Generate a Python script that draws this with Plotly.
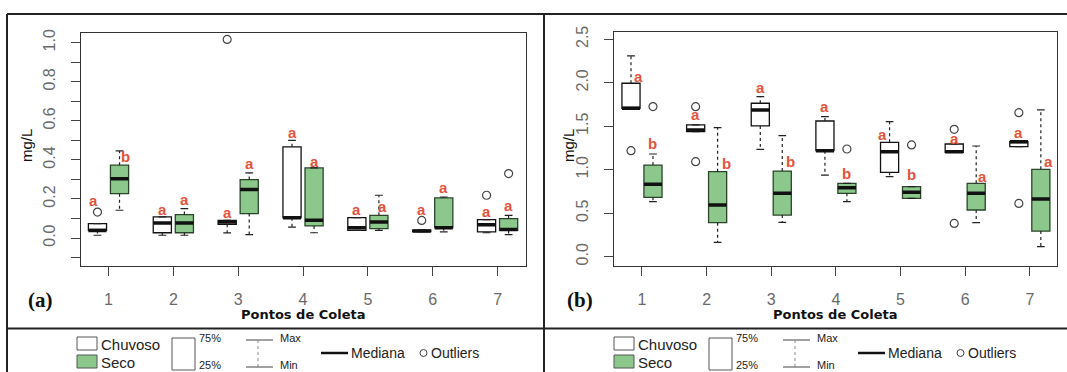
import plotly.graph_objects as go

W, H = 1067, 372

points = [1, 2, 3, 4, 5, 6, 7]
tick_labels = ["1", "2", "3", "4", "5", "6", "7"]

# ---------------- Panel (a) ----------------
a_chu_min = [0.014, 0.014, 0.026, 0.056, 0.039, 0.033, 0.027]
a_chu_q1 = [0.039, 0.027, 0.070, 0.104, 0.039, 0.033, 0.031]
a_chu_med = [0.039, 0.077, 0.082, 0.104, 0.053, 0.036, 0.068]
a_chu_q3 = [0.074, 0.108, 0.090, 0.467, 0.104, 0.040, 0.094]
a_chu_max = [0.074, 0.108, 0.090, 0.500, 0.104, 0.040, 0.094]
a_chu_out = [[0.133], [], [1.017], [], [], [0.090], [0.219]]
a_seco_min = [0.142, 0.014, 0.017, 0.027, 0.039, 0.031, 0.017]
a_seco_q1 = [0.227, 0.027, 0.125, 0.062, 0.048, 0.053, 0.039]
a_seco_med = [0.304, 0.077, 0.248, 0.091, 0.082, 0.053, 0.043]
a_seco_q3 = [0.373, 0.120, 0.299, 0.359, 0.116, 0.205, 0.099]
a_seco_max = [0.446, 0.150, 0.333, 0.359, 0.219, 0.210, 0.116]
a_seco_out = [[], [], [], [], [], [], [0.330]]
a_chu_letters = ["a", "a", "a", "a", "a", "a", "a"]
a_chu_letter_y = [0.193, 0.145, 0.133, 0.540, 0.145, 0.145, 0.138]
a_seco_letters = ["b", "a", "a", "a", "a", "a", "a"]
a_seco_letter_y = [0.419, 0.198, 0.381, 0.390, 0.159, 0.258, 0.164]
a_chu_letter_dx = [-4, 0, 0, 0, 0, 0, 0]
a_seco_letter_dx = [6, 0, 0, 0, 4, 0, 0]
a_yticks = [0.0, 0.2, 0.4, 0.6, 0.8, 1.0]

# ---------------- Panel (b) ----------------
b_chu_min = [1.706, 1.438, 1.235, 0.939, 0.920, 1.200, 1.265]
b_chu_q1 = [1.706, 1.438, 1.503, 1.219, 0.970, 1.200, 1.265]
b_chu_med = [1.706, 1.457, 1.687, 1.219, 1.208, 1.208, 1.323]
b_chu_q3 = [1.994, 1.515, 1.764, 1.560, 1.315, 1.296, 1.323]
b_chu_max = [2.308, 1.515, 1.840, 1.610, 1.553, 1.296, 1.323]
b_chu_out = [[1.219], [1.725, 1.093], [], [], [], [1.465, 0.383], [1.656, 0.613]]
b_seco_min = [0.633, 0.165, 0.395, 0.633, 0.671, 0.391, 0.115]
b_seco_q1 = [0.683, 0.391, 0.479, 0.729, 0.671, 0.537, 0.295]
b_seco_med = [0.832, 0.594, 0.729, 0.794, 0.740, 0.729, 0.663]
b_seco_q3 = [1.054, 0.978, 0.985, 0.844, 0.805, 0.844, 1.005]
b_seco_max = [1.181, 1.484, 1.392, 0.844, 0.805, 1.273, 1.687]
b_seco_out = [[1.726], [], [], [1.238], [1.285], [], []]
b_chu_letters = ["a", "a", "a", "a", "a", "a", "a"]
b_chu_letter_y = [2.070, 1.630, 1.944, 1.725, 1.407, 1.361, 1.426]
b_seco_letters = ["b", "b", "b", "b", "b", "a", "a"]
b_seco_letter_y = [1.304, 1.074, 1.093, 0.951, 0.947, 0.920, 1.093]
b_chu_letter_dx = [7, 0, 0, 0, -7, 0, 0]
b_seco_letter_dx = [0, 9, 8, 0, 0, 6, 8]
b_yticks = [0.0, 0.5, 1.0, 1.5, 2.0, 2.5]

OFF = 0.17
BW = 0.28
CAP = 0.06
GREEN = "#8cc88c"
GREEN_LINE = "#2a452a"
RED = "#e4533c"
TICKC = "#6a6a6a"


def X(px):
    return px / W


def Y(py):
    return 1 - py / H


fig = go.Figure()
annotations = []


def add_panel(xa, ya, chu, seco, chu_out, seco_out, letters):
    xref = "x" if xa == "xaxis" else "x2"
    yref = "y" if ya == "yaxis" else "y2"
    for (mn, q1, md, q3, mx), outs, sign, fill, lc in [
        (chu, chu_out, -1, "white", "#111111"),
        (seco, seco_out, 1, GREEN, GREEN_LINE),
    ]:
        xs = [p + sign * OFF for p in points]
        fig.add_trace(go.Box(
            x=xs, q1=q1, median=md, q3=q3, lowerfence=q1, upperfence=q3,
            width=BW, fillcolor=fill, line=dict(color=lc, width=1.3),
            xaxis=xref, yaxis=yref, showlegend=False, hoverinfo="skip",
        ))
        # whiskers (dashed)
        wx, wy = [], []
        for x0, a, b, c, d in zip(xs, mn, q1, q3, mx):
            wx += [x0, x0, None, x0, x0, None]
            wy += [c, d, None, b, a, None]
        fig.add_trace(go.Scatter(x=wx, y=wy, mode="lines",
                                 line=dict(color="#222222", width=1.2, dash="dot"),
                                 xaxis=xref, yaxis=yref, showlegend=False, hoverinfo="skip"))
        # caps
        cx, cy = [], []
        for x0, a, d in zip(xs, mn, mx):
            cx += [x0 - CAP, x0 + CAP, None, x0 - CAP, x0 + CAP, None]
            cy += [d, d, None, a, a, None]
        fig.add_trace(go.Scatter(x=cx, y=cy, mode="lines",
                                 line=dict(color="#222222", width=1.2),
                                 xaxis=xref, yaxis=yref, showlegend=False, hoverinfo="skip"))
        # medians
        mx_, my_ = [], []
        for x0, m in zip(xs, md):
            mx_ += [x0 - BW / 2, x0 + BW / 2, None]
            my_ += [m, m, None]
        fig.add_trace(go.Scatter(x=mx_, y=my_, mode="lines",
                                 line=dict(color="#111111", width=3.5),
                                 xaxis=xref, yaxis=yref, showlegend=False, hoverinfo="skip"))
        # outliers
        ox, oy = [], []
        for x0, o in zip(xs, outs):
            for v in o:
                ox.append(x0)
                oy.append(v)
        fig.add_trace(go.Scatter(x=ox, y=oy, mode="markers",
                                 marker=dict(symbol="circle-open", size=8,
                                             line=dict(color="#444444", width=1.2),
                                             color="#444444"),
                                 xaxis=xref, yaxis=yref, showlegend=False, hoverinfo="skip"))
    # letters
    (cl, cy_, cdx), (sl, sy_, sdx) = letters
    for sign, labs, ys, dxs in [(-1, cl, cy_, cdx), (1, sl, sy_, sdx)]:
        for p, t, yv, dx in zip(points, labs, ys, dxs):
            annotations.append(dict(
                x=p + sign * OFF, y=yv, xref=xref, yref=yref, text=f"<b>{t}</b>",
                showarrow=False, xshift=dx, xanchor="center", yanchor="middle",
                font=dict(family="Liberation Sans, Arial", size=15, color=RED),
            ))


add_panel("xaxis", "yaxis",
          (a_chu_min, a_chu_q1, a_chu_med, a_chu_q3, a_chu_max),
          (a_seco_min, a_seco_q1, a_seco_med, a_seco_q3, a_seco_max),
          a_chu_out, a_seco_out,
          ((a_chu_letters, a_chu_letter_y, a_chu_letter_dx),
           (a_seco_letters, a_seco_letter_y, a_seco_letter_dx)))
add_panel("xaxis2", "yaxis2",
          (b_chu_min, b_chu_q1, b_chu_med, b_chu_q3, b_chu_max),
          (b_seco_min, b_seco_q1, b_seco_med, b_seco_q3, b_seco_max),
          b_chu_out, b_seco_out,
          ((b_chu_letters, b_chu_letter_y, b_chu_letter_dx),
           (b_seco_letters, b_seco_letter_y, b_seco_letter_dx)))

axis_common = dict(showline=True, mirror=True, linecolor="#333333", linewidth=1.3,
                   ticks="outside", ticklen=9, tickcolor="#444444", tickwidth=1.2,
                   showgrid=False, zeroline=False,
                   tickfont=dict(family="Liberation Sans, Arial", size=16, color=TICKC))

xa = dict(axis_common, tickmode="array", tickvals=points, ticktext=tick_labels,
          ticklabelstandoff=10)

fig.update_layout(
    width=W, height=H, margin=dict(l=0, r=0, t=0, b=0, autoexpand=False),
    paper_bgcolor="white", plot_bgcolor="white",
    xaxis=dict(xa, domain=[X(81), X(526)], range=[0.576, 7.438], anchor="y"),
    yaxis=dict(axis_common, domain=[Y(265.7), Y(33)], range=[-0.1418, 1.0497], anchor="x",
               tickmode="array", tickvals=a_yticks,
               ticktext=[f"{v:.1f}" for v in a_yticks], tickangle=-90,
               ticklabelstandoff=9,
               minor=dict(dtick=0.1, tick0=0, ticks="outside", ticklen=9,
                          tickcolor="#444444", tickwidth=1.2, showgrid=False)),
    xaxis2=dict(xa, domain=[X(614), X(1057)], range=[0.567, 7.42], anchor="y2"),
    yaxis2=dict(axis_common, domain=[Y(265.7), Y(32.3)], range=[-0.1035, 2.580], anchor="x2",
                tickmode="array", tickvals=b_yticks,
                ticktext=[f"{v:.1f}" for v in b_yticks], tickangle=-90,
                ticklabelstandoff=9),
)


def ptext(px, py, text, size, family="Liberation Sans, Arial", xanchor="center",
          color="#222222", angle=0):
    annotations.append(dict(x=X(px), y=Y(py), xref="paper", yref="paper", text=text,
                            showarrow=False, xanchor=xanchor, yanchor="middle",
                            textangle=angle,
                            font=dict(family=family, size=size, color=color)))


# ---------- titles ----------
for cx, mgx in [((81 + 526) / 2, 26), ((614 + 1057) / 2, 568)]:
    ptext(cx, 314, "<b>Pontos de Coleta</b>", 13, family="DejaVu Sans", color="#111111")
    ptext(mgx, 146, "mg/L", 15, color="#111111", angle=-90)
ptext(40, 300, "<b>(a)</b>", 21, family="Liberation Serif", color="#111111")
ptext(580, 300, "<b>(b)</b>", 21, family="Liberation Serif", color="#111111")

# ---------- frame ----------
shapes = []
FR = dict(color="#222222", width=2)
shapes.append(dict(type="line", xref="paper", yref="paper", x0=X(7), x1=1, y0=Y(14), y1=Y(14), line=FR))
shapes.append(dict(type="line", xref="paper", yref="paper", x0=X(7), x1=X(7), y0=Y(14), y1=0, line=FR))
shapes.append(dict(type="line", xref="paper", yref="paper", x0=X(544), x1=X(544), y0=Y(14), y1=0, line=FR))
shapes.append(dict(type="line", xref="paper", yref="paper", x0=X(7), x1=1, y0=Y(328.5), y1=Y(328.5), line=FR))

# ---------- legend (drawn in each panel) ----------
for dx in [0, 537]:
    shapes.append(dict(type="rect", xref="paper", yref="paper", x0=X(77 + dx), x1=X(97 + dx),
                       y0=Y(350), y1=Y(337), line=dict(color="#555555", width=1), fillcolor="white"))
    shapes.append(dict(type="rect", xref="paper", yref="paper", x0=X(77 + dx), x1=X(97 + dx),
                       y0=Y(368), y1=Y(355), line=dict(color="#555555", width=1), fillcolor=GREEN))
    ptext(99 + dx, 344, "Chuvoso", 15, xanchor="left")
    ptext(99 + dx, 362, "Seco", 15, xanchor="left")
    shapes.append(dict(type="rect", xref="paper", yref="paper", x0=X(172 + dx), x1=X(195 + dx),
                       y0=Y(370), y1=Y(338), line=dict(color="#555555", width=1), fillcolor="white"))
    ptext(197 + dx, 338, "75%", 11, xanchor="left")
    ptext(197 + dx, 365, "25%", 11, xanchor="left")
    shapes.append(dict(type="line", xref="paper", yref="paper", x0=X(246 + dx), x1=X(273 + dx),
                       y0=Y(340), y1=Y(340), line=dict(color="#444444", width=1)))
    shapes.append(dict(type="line", xref="paper", yref="paper", x0=X(246 + dx), x1=X(273 + dx),
                       y0=Y(367), y1=Y(367), line=dict(color="#444444", width=1)))
    shapes.append(dict(type="line", xref="paper", yref="paper", x0=X(258 + dx), x1=X(258 + dx),
                       y0=Y(340), y1=Y(367), line=dict(color="#888888", width=1, dash="dot")))
    ptext(278 + dx, 338, "Max", 11, xanchor="left")
    ptext(278 + dx, 365, "Min", 11, xanchor="left")
    shapes.append(dict(type="line", xref="paper", yref="paper", x0=X(321 + dx), x1=X(348 + dx),
                       y0=Y(353), y1=Y(353), line=dict(color="#111111", width=2.5)))
    ptext(349 + dx, 353, "Mediana", 14, xanchor="left")
    shapes.append(dict(type="circle", xref="paper", yref="paper", x0=X(420 + dx), x1=X(427 + dx),
                       y0=Y(356.5), y1=Y(349.5), line=dict(color="#444444", width=1)))
    ptext(429 + dx, 353, "Outliers", 14, xanchor="left")

fig.update_layout(annotations=annotations, shapes=shapes)
fig.write_html("out.html")
